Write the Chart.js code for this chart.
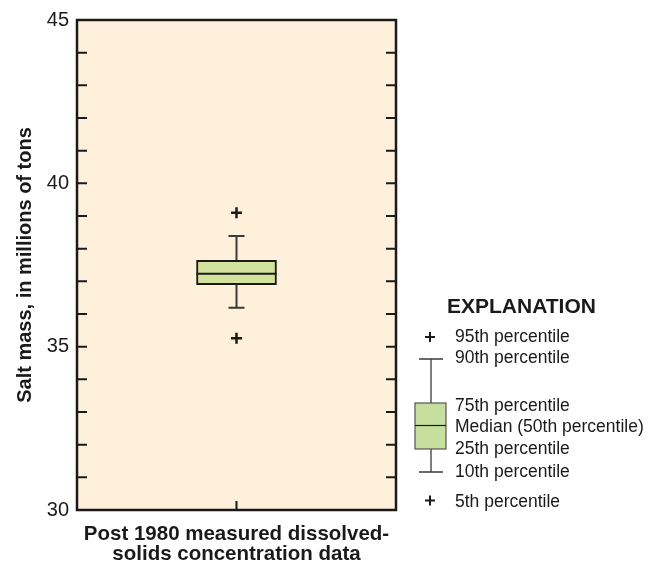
<!DOCTYPE html>
<html>
<head>
<meta charset="utf-8">
<script src="https://cdn.jsdelivr.net/npm/chart.js@4.4.0/dist/chart.umd.min.js"></script>
<style>
  body { margin: 0; background: #fff; }
  canvas { display: block; }
</style>
</head>
<body>
<canvas id="chart" width="662" height="574"></canvas>
<script>
// box plot values, millions of tons
var categories = [["Post 1980 measured dissolved-", "solids concentration data"]];
var p5  = [35.26];
var p10 = [36.19];
var p25 = [36.90];
var p50 = [37.23];
var p75 = [37.64];
var p90 = [38.39];
var p95 = [39.10];
var yTicks = [30, 35, 40, 45];

var narrow = "'Liberation Sans Narrow', 'Arial Narrow', Arial, sans-serif";
var plotBg = "#fef0db";
var boxFill = "#d3e29c";
var ink = "#1a1a1a";

var boxExtras = {
  id: "boxExtras",
  beforeDraw: function (chart) {
    var a = chart.chartArea, c = chart.ctx;
    c.save();
    c.fillStyle = plotBg;
    c.fillRect(a.left, a.top, a.right - a.left, a.bottom - a.top);
    c.restore();
  },
  beforeDatasetsDraw: function (chart) {
    // whiskers, behind the box
    var c = chart.ctx, xs = chart.scales.x, ys = chart.scales.y;
    c.save();
    c.strokeStyle = "#3a3a3a";
    c.lineWidth = 2;
    for (var i = 0; i < categories.length; i++) {
      var x = xs.getPixelForValue(i);
      c.beginPath();
      c.moveTo(x, ys.getPixelForValue(p90[i]));
      c.lineTo(x, ys.getPixelForValue(p10[i]));
      c.moveTo(x - 8, ys.getPixelForValue(p90[i]));
      c.lineTo(x + 8, ys.getPixelForValue(p90[i]));
      c.moveTo(x - 8, ys.getPixelForValue(p10[i]));
      c.lineTo(x + 8, ys.getPixelForValue(p10[i]));
      c.stroke();
    }
    c.restore();
  },
  afterDatasetsDraw: function (chart) {
    // median line across the box
    var c = chart.ctx, ys = chart.scales.y;
    var bars = chart.getDatasetMeta(0).data;
    c.save();
    c.strokeStyle = ink;
    c.lineWidth = 2;
    for (var i = 0; i < bars.length; i++) {
      var b = bars[i], y = ys.getPixelForValue(p50[i]);
      c.beginPath();
      c.moveTo(b.x - b.width / 2, y);
      c.lineTo(b.x + b.width / 2, y);
      c.stroke();
    }
    c.restore();
  },
  afterDraw: function (chart) {
    var a = chart.chartArea, c = chart.ctx, ys = chart.scales.y, xs = chart.scales.x;
    c.save();
    // inward ticks
    c.strokeStyle = ink;
    c.lineWidth = 2;
    c.beginPath();
    ys.ticks.forEach(function (t) {
      var y = ys.getPixelForValue(t.value);
      if (t.value <= ys.min || t.value >= ys.max) return;
      c.moveTo(a.left, y); c.lineTo(a.left + 10, y);
      c.moveTo(a.right, y); c.lineTo(a.right - 10, y);
    });
    for (var i = 0; i < categories.length; i++) {
      var x = xs.getPixelForValue(i);
      c.moveTo(x, a.bottom); c.lineTo(x, a.bottom - 9);
    }
    c.stroke();
    // frame
    c.lineWidth = 2.5;
    c.strokeRect(a.left, a.top, a.right - a.left, a.bottom - a.top);

    // explanation
    c.fillStyle = ink;
    c.textAlign = "left";
    c.textBaseline = "alphabetic";
    c.font = "bold 21px " + narrow;
    c.fillText("EXPLANATION", 447, 313);
    c.font = "17.5px " + narrow;
    var rows = [
      ["95th percentile", 342], ["90th percentile", 363],
      ["75th percentile", 410.5], ["Median (50th percentile)", 431.5],
      ["25th percentile", 454], ["10th percentile", 476.5], ["5th percentile", 506.5]
    ];
    rows.forEach(function (r) { c.fillText(r[0], 455, r[1]); });

    c.strokeStyle = "#3a3a3a";
    c.lineWidth = 1.3;
    c.beginPath();
    c.moveTo(431, 359); c.lineTo(431, 472);
    c.moveTo(419, 359); c.lineTo(443, 359);
    c.moveTo(419, 472); c.lineTo(443, 472);
    c.stroke();
    c.fillStyle = "#c6df9e";
    c.fillRect(415, 403, 31, 46);
    c.strokeStyle = "#555";
    c.lineWidth = 1.2;
    c.strokeRect(415, 403, 31, 46);
    c.strokeStyle = ink;
    c.beginPath();
    c.moveTo(415, 425.5); c.lineTo(446, 425.5);
    c.stroke();
    c.lineWidth = 2;
    c.beginPath();
    [337, 500.5].forEach(function (y) {
      c.moveTo(425, y); c.lineTo(435, y);
      c.moveTo(430, y - 5); c.lineTo(430, y + 5);
    });
    c.stroke();
    c.restore();
  }
};

new Chart(document.getElementById("chart"), {
  type: "bar",
  data: {
    labels: categories,
    datasets: [{
      data: p25.map(function (v, i) { return [v, p75[i]]; }),
      backgroundColor: boxFill,
      borderColor: ink,
      borderWidth: 2,
      borderSkipped: false,
      barThickness: 80
    }, {
      type: "line",
      data: p95,
      showLine: false,
      pointStyle: "cross",
      pointRadius: 5.5,
      pointBorderWidth: 2.5,
      borderColor: ink
    }, {
      type: "line",
      data: p5,
      showLine: false,
      pointStyle: "cross",
      pointRadius: 5.5,
      pointBorderWidth: 2.5,
      borderColor: ink
    }]
  },
  options: {
    responsive: false,
    animation: false,
    layout: { padding: { top: 16, right: 266, bottom: 0, left: 0 } },
    plugins: { legend: { display: false }, tooltip: { enabled: false } },
    scales: {
      x: {
        grid: { display: false, drawTicks: false },
        border: { display: false },
        ticks: {
          color: ink,
          padding: 15,
          font: { family: narrow, size: 20.5, weight: "bold", lineHeight: 0.95 }
        },
        afterFit: function (s) { s.height = 64; }
      },
      y: {
        min: 30,
        max: 45,
        grid: { display: false, drawTicks: false },
        border: { display: false },
        ticks: {
          stepSize: 1,
          autoSkip: false,
          padding: 8,
          color: ink,
          font: { family: narrow, size: 20 },
          callback: function (v) { return yTicks.indexOf(v) >= 0 ? v : ""; }
        },
        title: {
          display: true,
          text: "Salt mass, in millions of tons",
          color: ink,
          font: { family: narrow, size: 20, weight: "bold" },
          padding: { top: 13, bottom: 0 }
        },
        afterFit: function (s) { s.width = 77; }
      }
    }
  },
  plugins: [boxExtras]
});
</script>
</body>
</html>
